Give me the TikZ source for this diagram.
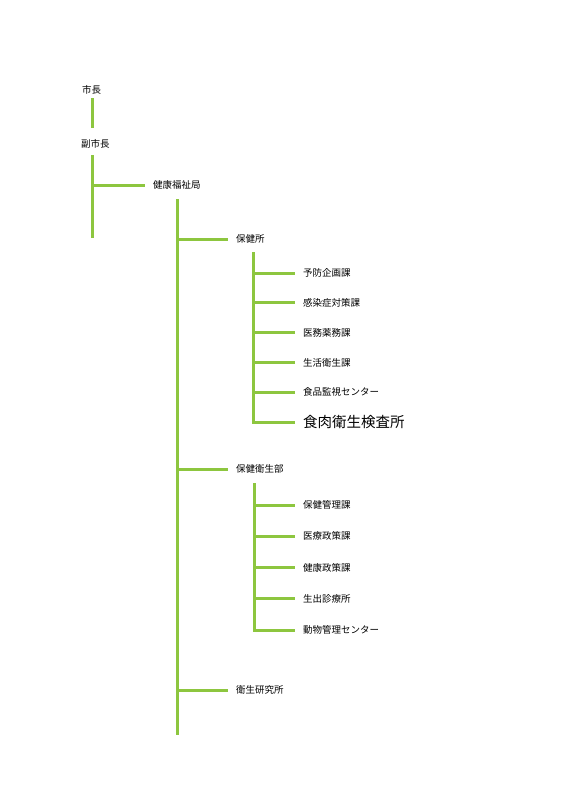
\documentclass[tikz,border=0pt]{standalone}
\usepackage{fontspec}
\newfontfamily\jpfont{Noto Sans CJK JP}
\definecolor{orggreen}{RGB}{141,198,63}
\tikzset{
	orgline/.style={draw=orggreen,line width=3pt},
	unit/.style={anchor=west,inner xsep=8pt,inner ysep=1pt,font=\jpfont\fontsize{9.5}{11}\selectfont},
	bigunit/.style={unit,font=\jpfont\fontsize{14.5}{17}\selectfont},
}
\begin{document}
\begin{tikzpicture}[x=1pt,y=-1pt]
	\useasboundingbox[fill=white] (0,0) rectangle (566,800);
	% top
	\node[unit,inner xsep=0pt] (mayor) at (82,90) {市長};
	\node[unit,inner xsep=0pt] (vice) at (81,144) {副市長};
	\coordinate (m-top) at (92,98);
	\coordinate (m-bot) at (92,128);
	\draw[orgline] (m-top) -- (m-bot);
	\coordinate (v-top) at (92,155);
	\coordinate (v-bot) at (92,238);
	\draw[orgline] (v-top) -- (v-bot);
	\node[unit] (bureau) at (145,185) {健康福祉局};
	\draw[orgline] (v-top |- bureau.west) -- (bureau.west);
	% bureau
	\coordinate (b-top) at (177,199);
	\coordinate (b-bot) at (177,735);
	\draw[orgline] (b-top) -- (b-bot);
	\node[unit] (hc) at (228,239) {保健所};
	\node[unit] (hd) at (228,469) {保健衛生部};
	\node[unit] (lab) at (228,690) {衛生研究所};
	\foreach \n in {hc,hd,lab}
		\draw[orgline] (b-top |- \n.west) -- (\n.west);
	% hokenjo
	\coordinate (hc-top) at (253,252);
	\foreach \t [count=\i] in {予防企画課,感染症対策課,医務薬務課,生活衛生課,食品監視センター}
		\node[unit] (hc\i) at (295,{273+(\i-1)*29.8}) {\t};
	\node[bigunit] (hc6) at (295,422) {食肉衛生検査所};
	\draw[orgline] (hc-top) -- (hc-top |- hc6.west) -- (hc6.west);
	\foreach \i in {1,...,5}
		\draw[orgline] (hc-top |- hc\i.west) -- (hc\i.west);
	% hoken eisei bu
	\coordinate (hd-top) at (254,483);
	\foreach \t [count=\i] in {保健管理課,医療政策課,健康政策課,生出診療所,動物管理センター}
		\node[unit] (hd\i) at (295,{505+(\i-1)*31.25}) {\t};
	\draw[orgline] (hd-top) -- (hd-top |- hd5.west) -- (hd5.west);
	\foreach \i in {1,...,4}
		\draw[orgline] (hd-top |- hd\i.west) -- (hd\i.west);
\end{tikzpicture}
\end{document}
